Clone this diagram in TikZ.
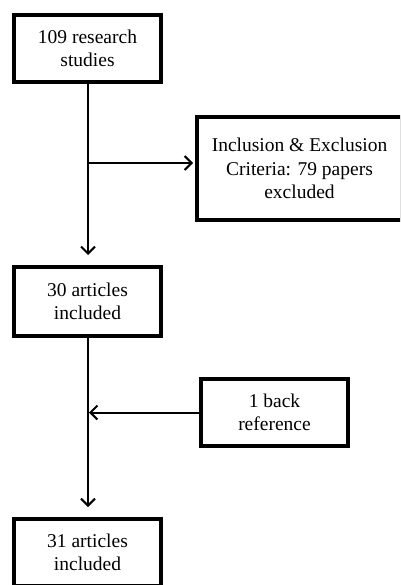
\documentclass[tikz,border=0pt]{standalone}
\usepackage{fontspec}
\setmainfont{Liberation Serif}
\usetikzlibrary{arrows.meta}
\begin{document}
\begin{tikzpicture}[x=1pt,y=-1pt,
  box/.style={draw,line width=4pt,minimum width=147pt,minimum height=67pt,inner sep=0pt,align=center,
    font=\fontsize{19.5}{23.5}\selectfont},
  conn/.style={line width=2pt,-{Straight Barb[length=7pt,width=14pt,line width=2pt]}}]
\useasboundingbox (0,0) rectangle (400,585);
\clip (0,0) rectangle (400,585);
\node[box] (b1) at (87.5,48.5) {109 research\\studies};
\node[box,minimum width=205pt,minimum height=103pt] (b2) at (299.5,168.5) {Inclusion \& Exclusion\\Criteria: 79 papers\\excluded};
\node[box,minimum height=69pt] (b3) at (87.5,301.5) {30 articles\\included};
\node[box] (b4) at (274.5,412.5) {1 back\\reference};
\node[box] (b5) at (87.5,552.5) {31 articles\\included};
\coordinate (j) at (88,163);
\coordinate (m) at (89,412.5);
\draw[conn,shorten >=10pt] (b1.south -| j) -- (b3.north -| j);
\draw[conn,shorten >=2pt] (j) -- (b2.west |- j);
\draw[conn,shorten >=10pt] (b3.south -| j) -- (b5.north -| j);
\draw[conn] (b4.west) -- (m);
\end{tikzpicture}
\end{document}
